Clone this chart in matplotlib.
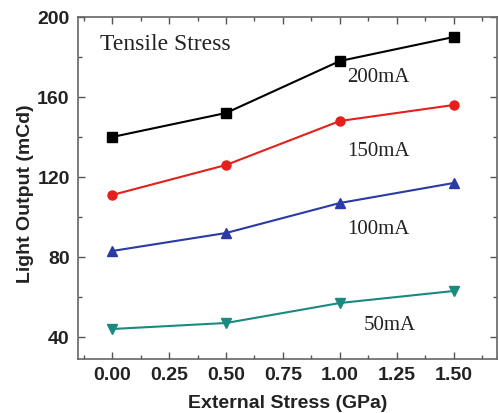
import matplotlib
matplotlib.use("Agg")
import matplotlib.pyplot as plt
from matplotlib.ticker import MultipleLocator

# data
stress = [0.0, 0.5, 1.0, 1.5]
out_200 = [140, 152, 178, 190]
out_150 = [111, 126, 148, 156]
out_100 = [83, 92, 107, 117]
out_50 = [44, 47, 57, 63]

series = [
    ("200mA", out_200, "black", "s", (1.17, 169.5)),
    ("150mA", out_150, "#e3201b", "o", (1.17, 132.5)),
    ("100mA", out_100, "#2a3aa6", "^", (1.17, 93.5)),
    ("50mA", out_50, "#1a8a80", "v", (1.22, 46)),
]

fig = plt.figure(figsize=(4.99, 4.13), dpi=100)
ax = fig.add_axes([78 / 499, 1 - 359 / 413, (497 - 78) / 499, (359 - 17) / 413])

for name, vals, color, marker, pos in series:
    ax.plot(stress, vals, color=color, marker=marker, markersize=6.5, linewidth=1.5)
    ax.text(pos[0], pos[1], name, family="Liberation Serif", fontsize=15,
            color="#222222", ha="center", va="center")

ax.text(-0.055, 186, "Tensile Stress", family="Liberation Serif", fontsize=17,
        color="#222222", ha="left", va="center")

ax.set_xlim(-0.15, 1.69)
ax.set_ylim(29, 200)
ax.xaxis.set_minor_locator(MultipleLocator(0.125))
ax.yaxis.set_major_locator(MultipleLocator(40))
ax.yaxis.set_minor_locator(MultipleLocator(20))
ax.set_xticks([0, 0.25, 0.5, 0.75, 1.0, 1.25, 1.5])
ax.set_xticklabels(["0.00", "0.25", "0.50", "0.75", "1.00", "1.25", "1.50"])

ax.tick_params(which="both", direction="in", top=True, right=True, colors="#555555",
               labelcolor="#222222", labelsize=14, width=1)
ax.tick_params(which="major", length=5, pad=6)
ax.tick_params(which="minor", length=3)
for lbl in ax.get_xticklabels() + ax.get_yticklabels():
    lbl.set_fontweight("bold")
    lbl.set_family("Liberation Sans")
for sp in ax.spines.values():
    sp.set_color("#666666")
    sp.set_linewidth(1.2)

ax.set_xlabel("External Stress (GPa)", family="Liberation Sans", fontweight="bold",
              fontsize=14, color="#222222")
# the y label in the original looks condensed
ax.set_ylabel("Light Output (mCd)", family=["Liberation Sans Narrow", "Liberation Sans"],
              fontweight="bold", fontsize=14, color="#222222")
ax.xaxis.set_label_coords(0.5, (359 - 403) / 342, transform=ax.transAxes)
ax.yaxis.set_label_coords((25 - 78) / 419, (359 - 194) / 342, transform=ax.transAxes)
ax.xaxis.label.set_va("center")
ax.yaxis.label.set_va("center")

fig.savefig("out.png", dpi=100)
